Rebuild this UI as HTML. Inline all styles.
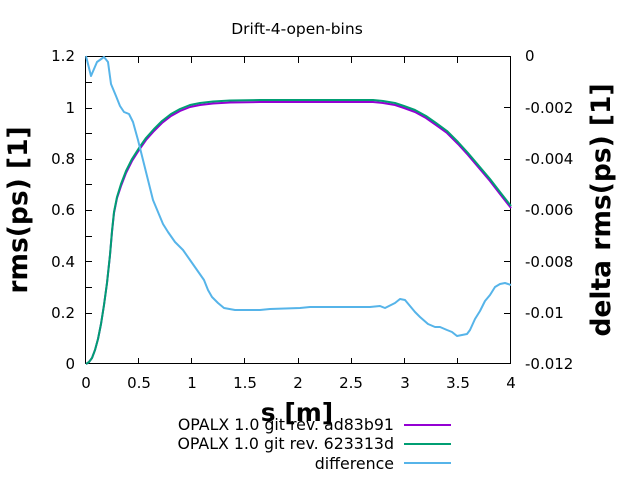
<!DOCTYPE html>
<html><head><style>body{margin:0;background:#fff}svg{display:block}text{font-family:"DejaVu Sans",sans-serif}</style></head><body>
<svg width="640" height="480" viewBox="0 0 640 480" xmlns="http://www.w3.org/2000/svg">
<text x="297" y="34" font-size="15.5" text-anchor="middle">Drift-4-open-bins</text>
<g stroke="#000" stroke-width="1" fill="none">
<rect x="85.5" y="56.5" width="425" height="307"/>
<path d="M86 287.5h6M86 210.5h6M86 159.5h6M86 108.5h6M86 261.5h6M86 313.5h6M86 236.5h6M86 184.5h6M86 133.5h6M86 82.5h6"/>
<path d="M510 107.5h-6M510 159.5h-6M510 210.5h-6M510 261.5h-6M510 313.5h-6"/>
<path d="M138.5 364v-6M191.5 364v-6M244.5 364v-6M298.5 364v-6M351.5 364v-6M404.5 364v-6M457.5 364v-6"/>
<path d="M138.5 57v6M191.5 57v6M244.5 57v6M298.5 57v6M351.5 57v6M404.5 57v6M457.5 57v6"/>
</g>
<g font-size="15" text-anchor="end">
<text x="75" y="369">0</text><text x="75" y="318">0.2</text><text x="75" y="267">0.4</text><text x="75" y="215">0.6</text><text x="75" y="164">0.8</text><text x="75" y="113">1</text><text x="75" y="61">1.2</text>
</g>
<g font-size="15" text-anchor="start">
<text x="525" y="61">0</text><text x="525" y="113">-0.002</text><text x="525" y="164">-0.004</text><text x="525" y="215">-0.006</text><text x="525" y="267">-0.008</text><text x="525" y="318">-0.01</text><text x="525" y="369">-0.012</text>
</g>
<g font-size="15" text-anchor="middle">
<text x="86" y="388">0</text><text x="139" y="388">0.5</text><text x="192" y="388">1</text><text x="245" y="388">1.5</text><text x="298" y="388">2</text><text x="351" y="388">2.5</text><text x="405" y="388">3</text><text x="458" y="388">3.5</text><text x="511" y="388">4</text>
</g>
<text x="297" y="421" font-size="25" font-weight="bold" text-anchor="middle">s [m]</text>
<text transform="translate(27,210) rotate(-90)" font-size="26.5" font-weight="bold" text-anchor="middle">rms(ps) [1]</text>
<text transform="translate(610,210) rotate(-90)" font-size="26.5" font-weight="bold" text-anchor="middle">delta rms(ps) [1]</text>
<g fill="none" stroke-width="2" stroke-linejoin="round">
<polyline stroke="#9400d3" points="86,364 89,362 92,358 95,350 98,339 101,324 104,305 107,283 110,255 112,232 114,213 117,198 121,186 126,173 132,161 139,150 146,140 154,131 162,123 171,116 180,111 190,107 200,105 213,103.5 230,102.5 260,102 373,102 383,103 395,105 404,108 415,112 426,118 436,125 447,133 458,144 468,155 479,168 490,181 500,194 511,208"/>
<polyline stroke="#009e73" points="86,364 89,362 92,358 95,350 98,339 101,324 104,305 107,283 110,255 112,231 114,212 117,197 121,184 126,171 132,159 139,148 146,138 154,129 162,121 171,114 180,109 190,105 200,103 213,101.5 230,100.5 260,100 373,100 383,101 395,103 404,106 415,110 426,116 436,123 447,131 458,142 468,153 479,166 490,179 500,192 511,206"/>
<polyline stroke="#56b4e9" points="86,56 91,76 97,62 104,57 108,62 111,84 116,96 120,106 124,112 129,114 133,122 138,140 143,160 148,180 153,200 158,212 163,224 168,232 175,242 183,250 190,260 197,270 204,280 208,290 212,297 218,303 224,308 235,310 260,310 270,309 300,308 310,307 370,307 380,306 385,308 395,303 400,299 405,300 410,306 415,312 420,317 428,324 435,327 440,327 447,330 452,332 457,336 462,335 467,334 470,330 475,319 480,311 485,301 490,295 495,287 500,284 505,283 511,285"/>
</g>
<g font-size="15.8" text-anchor="end">
<text x="394" y="430">OPALX 1.0 git rev. ad83b91</text>
<text x="394" y="449">OPALX 1.0 git rev. 623313d</text>
<text x="394" y="469">difference</text>
</g>
<g stroke-width="2">
<line x1="404" y1="425" x2="451" y2="425" stroke="#9400d3"/>
<line x1="404" y1="444" x2="451" y2="444" stroke="#009e73"/>
<line x1="404" y1="463" x2="451" y2="463" stroke="#56b4e9"/>
</g>
</svg>
</body></html>
